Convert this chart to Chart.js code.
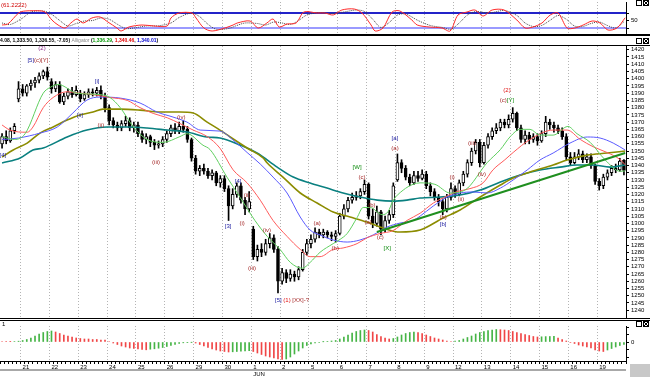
<!DOCTYPE html>
<html>
<head>
<meta charset="utf-8">
<script src="https://cdn.jsdelivr.net/npm/chart.js@4.4.0/dist/chart.umd.min.js"></script>
<style>
  body { margin: 0; background: #fff; }
  #wrap { position: relative; width: 650px; height: 377px; overflow: hidden; }
  canvas { position: absolute; left: 0; }
</style>
</head>
<body>
<div id="wrap">
  <canvas id="stoch" width="650" height="46" style="top:0;width:650px;height:46px"></canvas>
  <canvas id="main" width="650" height="272" style="top:46px;width:650px;height:272px"></canvas>
  <canvas id="osc" width="650" height="59" style="top:318px;width:650px;height:59px"></canvas>
</div>
<script>
// ---- data (hourly bars, 21 May .. 19 Jun) ----
const dayLabels = ['21','22','23','24','25','26','29','30','1','2','5','6','7','8','9','12','13','14','15','16','19'];
const dayStarts = [5,12,19,26,33,40,47,54,61,68,75,82,89,96,103,110,117,124,131,138,145];
const priceTicks = [1240,1245,1250,1255,1260,1265,1270,1275,1280,1285,1290,1295,1300,1305,1310,1315,1320,1325,1330,1335,1340,1345,1350,1355,1360,1365,1370,1375,1380,1385,1390,1395,1400,1405,1410,1415,1420];

const opens = [1355,1360,1357,1364,1386,1393,1390,1395,1397,1399,1402,1405,
  1398,1393,1396,1384,1388,1391,1389,
  1390,1386,1389,1391,1390,1392,1388,
  1380,1371,1368,1366,1369,1371,1366,
  1368,1362,1358,1360,1356,1354,1355,
  1358,1362,1366,1364,1367,1365,1358,
  1345,1336,1338,1336,1333,1335,1328,
  1331,1324,1312,1320,1326,1316,1310,
  1296,1277,1282,1280,1286,1290,1282,
  1260,1266,1262,1265,1263,1268,1280,
  1286,1289,1294,1292,1294,1292,1291,
  1293,1305,1310,1316,1318,1319,1322,
  1327,1305,1300,1308,1296,1302,1306,
  1330,1342,1338,1332,1328,1333,1331,
  1334,1326,1322,1318,1315,1310,1318,
  1324,1320,1328,1334,1342,1350,1356,
  1342,1354,1360,1364,1366,1370,1368,
  1372,1376,1366,1358,1361,1358,1360,
  1357,1362,1370,1368,1366,1364,1360,
  1346,1342,1346,1348,1344,1346,1340,
  1329,1326,1332,1335,1338,1337,1343.6];
const highs = [1362,1364,1366,1369,1398,1396,1396,1399,1401,1404,1406,1408,
  1400,1398,1398,1390,1393,1394,1395,
  1392,1391,1393,1393,1394,1395,1390,
  1382,1373,1370,1371,1374,1373,1370,
  1370,1364,1362,1361,1358,1357,1360,
  1364,1368,1369,1370,1371,1367,1359,
  1347,1340,1341,1338,1337,1336,1333,
  1333,1326,1324,1328,1328,1318,1322,
  1298,1285,1286,1289,1293,1292,1284,
  1269,1268,1268,1267,1270,1282,1289,
  1292,1297,1296,1296,1295,1294,1295,
  1307,1313,1318,1321,1322,1324,1330,
  1328,1310,1312,1309,1305,1309,1328,
  1348,1344,1340,1334,1336,1336,1337,
  1336,1328,1324,1320,1317,1320,1328,
  1326,1330,1336,1344,1352,1358,1358,
  1356,1362,1366,1369,1372,1372,1375,
  1380,1377,1368,1364,1363,1362,1362,
  1364,1374,1372,1370,1368,1366,1362,
  1349,1349,1351,1350,1348,1348,1341,
  1331,1334,1337,1340,1341,1345,1344.08];
const lows = [1352,1355,1356,1362,1384,1388,1388,1392,1394,1397,1400,1399,
  1390,1391,1383,1382,1386,1387,1388,
  1384,1385,1387,1388,1388,1386,1377,
  1368,1366,1364,1364,1367,1364,1363,
  1360,1356,1355,1353,1351,1352,1353,
  1356,1360,1362,1362,1363,1356,1343,
  1334,1333,1334,1331,1330,1326,1325,
  1322,1302,1310,1318,1314,1306,1308,
  1275,1274,1277,1278,1283,1280,1252,
  1258,1259,1260,1260,1261,1267,1278,
  1283,1287,1290,1290,1290,1288,1287,
  1292,1303,1308,1314,1316,1317,1320,
  1303,1297,1298,1292,1294,1300,1304,
  1329,1335,1330,1326,1327,1329,1330,
  1324,1319,1316,1312,1306,1308,1316,
  1318,1319,1326,1332,1340,1348,1339,
  1341,1352,1358,1362,1364,1366,1366,
  1370,1364,1356,1355,1355,1356,1354,
  1356,1360,1365,1363,1362,1358,1344,
  1340,1341,1344,1342,1342,1338,1327,
  1323,1324,1330,1333,1335,1336,1333.5];
const closes = [1360,1357,1364,1367,1393,1390,1395,1397,1399,1402,1405,1401,
  1393,1396,1384,1388,1391,1389,1392,
  1386,1389,1391,1390,1392,1388,1380,
  1371,1368,1366,1369,1371,1366,1368,
  1362,1358,1360,1356,1354,1355,1358,
  1362,1366,1364,1367,1365,1358,1345,
  1336,1338,1336,1333,1335,1328,1331,
  1324,1312,1320,1326,1316,1310,1315,
  1277,1282,1280,1286,1290,1282,1260,
  1266,1262,1265,1263,1268,1280,1286,
  1289,1294,1292,1294,1292,1291,1293,
  1305,1310,1316,1318,1319,1322,1327,
  1305,1300,1308,1296,1302,1306,1326,
  1342,1338,1332,1328,1333,1331,1334,
  1326,1322,1318,1315,1310,1318,1324,
  1320,1328,1334,1342,1350,1356,1342,
  1354,1360,1364,1366,1370,1368,1372,
  1376,1366,1358,1361,1358,1360,1357,
  1362,1370,1368,1366,1364,1360,1346,
  1342,1346,1348,1344,1346,1340,1329,
  1326,1332,1335,1338,1337,1343,1336.55];

// Alligator lines and two longer averages
const lipsBars = [0,3,5.6,10,11.7,13.6,18.2,23.8,26.2,28.7,31.8,35.2,39.1,43.2,44.9,48.8,50.5,54.6,57.8,61.4,64.4,67.5,70,72.9,74.8,77.2,80.4,82.1,83.8,86.2,87.7,89.4,92.3,93.7,95,97.4,99.8,101.5,105.1,108.8,112.4,117.8,121,123.4,125.8,128.2,130.6,133.8,137.4,139.6,142.8,146.4,150.1,151.3];
const lipsVals = [1360,1358,1362,1390,1394,1396,1390,1389,1387,1380,1367,1358,1356,1360,1362,1354,1351,1332,1318,1302,1291,1282,1273,1269,1273,1280,1286,1289,1293,1304,1311,1311,1306,1308,1316,1323,1327,1328,1327,1321,1323,1342,1351,1360,1365,1365,1361,1361,1367,1362,1356,1344,1336,1336.3];
const teethBars = [0,1.9,6.1,7.5,10,12.4,15.8,18.9,22.1,26.2,30.4,33.5,36.7,40.1,43.2,46.4,49.8,52.9,56.1,59.5,62.7,65.8,69.2,72.4,74.8,77.2,80.4,82.8,86.2,88.6,91.8,94.9,98.3,101.5,104.7,108.1,110.5,113.6,116.8,119.2,122.1,124.1,128.2,133.8,137.2,140.4,143.5,146.9,150.1,151.3];
const teethVals = [1368,1364.5,1363,1366.6,1380,1387,1391,1390,1389,1387,1385,1380,1376,1373,1369,1364.5,1360,1352,1337,1328,1316,1302,1291,1282,1277,1277,1282,1283,1286,1290,1293,1295,1302,1307,1314,1319,1322,1324,1328,1337,1344,1349,1358,1364.5,1364.5,1358,1353,1349,1344,1340.5];
const jawBars = [0,4,9.2,13.4,17.2,20.6,23.8,28.7,33.5,37.6,41.5,44.9,48.1,52.9,56.1,59.5,62.7,65.8,69.2,72.4,74.8,77.2,80.4,83.8,86.9,90.1,93.5,96.6,99.8,101.5,104.7,108.1,111.2,114.4,117.8,121,124.1,127.5,130.6,133.8,137.9,142.1,145.2,148.4,151.3];
const jawVals = [1358,1359,1362.4,1366.6,1376.3,1385.2,1387.3,1386.6,1383.2,1377,1373.5,1370,1364.5,1363.8,1357.6,1349,1341,1332,1321,1304.4,1295.4,1292,1288.5,1287.1,1288.5,1292,1297.5,1300.2,1302,1305,1312,1318.2,1321,1321.7,1321,1324.4,1330,1336.9,1343.8,1348.6,1355.5,1359.7,1359,1355.5,1350.7];
const slowBars = [0,2.7,6.1,9.2,12.4,15.8,18.9,22.1,24.5,28.7,33.5,38.4,43.2,46.4,49.8,52.9,55.4,59.5,63.4,64.4,68.2,72.4,76.5,80.4,84.5,88.6,92.5,96.6,101.5,107.1,111.2,116.1,121,124.1,128.2,133.8,137.2,142.1,146.9,151.3];
const slowVals = [1345.9,1350.7,1355.5,1362.4,1366.6,1371.4,1374.9,1377,1379,1379,1378.3,1377,1377,1376.3,1370,1364.5,1359.7,1352.1,1345.2,1341.7,1332,1321,1314.1,1307.8,1304.4,1300.9,1296.8,1294,1295.4,1303.7,1309.2,1318.2,1326.5,1331.3,1335.5,1340.3,1343.8,1347.2,1348.6,1350];
const longBars = [0,4.4,7.5,10,15.8,20.6,25.5,30.4,35.2,40.1,44.9,49.8,52.9,57.8,61.9,66.8,70.7,74.8,78.9,82.8,86.9,91.1,94.9,98.3,101.5,106.4,111.2,116.1,121,125.8,130.6,135.5,139.6,143.5,147.6,151.3];
const longVals = [1341.7,1345.2,1350.7,1352.1,1359.7,1364.5,1366.6,1366.6,1365.9,1364.5,1363.1,1359.7,1359,1354.1,1348.6,1338.9,1332,1327.9,1324.4,1321,1318.2,1316.1,1315.4,1316.1,1317.5,1318.2,1319.6,1323,1328.6,1333.4,1336.9,1338.9,1340.3,1340.3,1338.9,1340.3];
const trendBars = [91, 151.3];
const trendVals = [1294, 1348.6];

// stochastic (top pane)
const stochBars = [0,1.4,4.1,5.6,9.7,10.7,12.1,13.6,15.3,16.7,18.2,19.7,21.8,23.8,25.7,27.9,28.9,30.8,34,36.9,40.1,41,43,46.1,47.1,49,51,54.1,56.1,57.1,60.2,62.2,64.3,65.8,67.3,69.2,71.4,73.3,76.5,78.4,80.4,82.5,85.5,87.4,89.6,90.6,92.5,94.7,96.6,99.5,100.8,103.7,106.8,108.8,110.7,112.9,114.8,116.8,119,121.9,125,127,128.9,131.1,133.1,135,137.2,139.1,141.1,143.3,145.2,147.1,149.3,151.3];
const stochK = [32,36,81,88,88,81,52,32,20,40,56,40,60,64,44,20,8,24,32,28,28,60,80,80,60,20,8,20,32,40,48,20,40,56,24,36,40,84,80,80,72,92,96,80,32,8,20,84,88,52,32,24,20,8,72,84,92,68,92,92,52,20,24,40,72,80,20,20,32,48,40,12,20,61];
const sigBars = [0,2,5,7,10,12,14,16,18,20,22,24,26,28,30,32,35,38,41,43,46,48,50,52,55,57,59,62,64,66,68,70,72,74,77,80,83,86,88,90,92,94,96,98,101,104,107,109,111,113,115,117,119,122,125,127,129,131,133,135,137,139,141,143,145,147,149,151];
const stochD = [40,34,60,84,88,75,50,28,38,48,50,60,55,35,18,20,28,29,40,62,80,65,35,15,18,30,40,38,32,44,40,34,50,72,82,78,84,92,86,55,22,42,72,76,50,30,22,15,40,72,86,82,82,90,70,40,26,30,50,70,55,28,26,38,44,30,20,45];

// oscillator histogram (bottom pane), one value per bar
const oscVals = [0.5,0.5,0.3,0.5,0.8,
  1.5,2.5,4,6,8,9.5,10.5, 11,10,8.5,7,6,5,4, 3.5,3,3,2.5,2.5,2,2,
  0.5,-1,-2.5,-4,-5,-6,-6.5, -7,-7.5,-7.8,-7.2,-6.8,-6.2,-5.5,
  -4.5,-3.5,-2.5,-1.5,-0.8,-0.3,-0.2, -1,-2.5,-4,-5.5,-7,-8,-9,
  -9.5,-10,-9.8,-9.5,-9.2,-9,-8.6, -9.5,-11,-12.5,-14,-15,-16,-17,
  -17.5,-17,-15,-12,-9,-6,-3.5, -2,-1,-0.5,0.2,0.6,1,1.5,
  3,5,7,9,10.5,11.5,12, 11.5,10,7.5,5.5,4,3,3.5,
  5,7,8.5,9.5,10,9.5,8.5, 7,5.5,4,3,2,1,0.5,
  0.8,1.5,3,4.5,6,8,9.5, 10.5,11.5,12,12.5,12.3,12,11.5,
  10.5,9.5,8.5,7.5,6.5,5.5,5, 5.2,5.4,5.5,5.6,4,2.5,1,
  -0.5,-1.5,-3,-4,-5,-6, -8,-9,-9.5, -8,-6.5,-5,-3.5,-2.5];

const BLUE = '#1c1ca0', BROWN = '#a52a2a', RED = '#e01010', GREEN = '#0a8a0a', PURPLE = '#8a2a8a';
const waveLabels = [
  [0.2, 1347, [['[4]', BLUE]]],
  [9.7, 1421, [['(2)', PURPLE]]],
  [8.7, 1413, [['[5]', BLUE], ['(c)', BROWN], ['[Y]', BROWN]]],
  [23.1, 1398, [['[i]', BLUE]]],
  [18.9, 1375, [['[ii]', BLUE]]],
  [24, 1368, [['(ii)', BROWN]]],
  [37.4, 1342, [['(iii)', BROWN]]],
  [43.5, 1373.5, [['(iv)', BROWN]]],
  [54.9, 1298, [['[3]', BLUE]]],
  [57.3, 1329, [['[4]', BLUE]]],
  [58.3, 1300, [['(i)', BROWN]]],
  [59.5, 1319.6, [['(ii)', BROWN]]],
  [60.7, 1269, [['(iii)', BROWN]]],
  [64.3, 1295.4, [['(iv)', BROWN]]],
  [70.4, 1247, [['[5] ', BLUE], ['(1) ', RED], ['[XX]-?', BROWN]]],
  [76.5, 1300, [['(a)', BROWN]]],
  [80.9, 1283, [['(b)', BROWN]]],
  [86.2, 1339, [['[W]', GREEN]]],
  [87.4, 1332, [['(c)', BROWN]]],
  [89.8, 1312.7, [['(b)', BROWN]]],
  [88.9, 1301, [['(a)', BROWN]]],
  [91.8, 1290.6, [['(c)', BROWN]]],
  [93.5, 1283, [['[X]', GREEN]]],
  [95.4, 1359, [['[a]', BLUE]]],
  [95.4, 1352, [['(a)', BROWN]]],
  [107.1, 1304.4, [['(b)', BROWN]]],
  [107.1, 1299, [['[b]', BLUE]]],
  [109.3, 1332, [['(i)', BROWN]]],
  [111.4, 1316.8, [['(ii)', BROWN]]],
  [114.1, 1355.5, [['(iii)', BROWN]]],
  [116.5, 1334, [['(iv)', BROWN]]],
  [122.6, 1392, [['(2)', RED]]],
  [122.6, 1385, [['(c)', BROWN], ['[Y]', GREEN]]]
];

// ---- helpers ----
const FONT = '"Liberation Sans", Arial, sans-serif';
const pts = (xs, ys) => xs.map((x, i) => ({ x: x + 0.5, y: ys[i] }));
const daySet = new Set(dayStarts);

function hiddenX() {
  return {
    type: 'linear', min: 0, max: 152, offset: false,
    grid: { color: '#b4b4b4', drawTicks: false, offset: false },
    border: { display: false, dash: [1, 2] },
    ticks: { display: false },
    afterBuildTicks: s => { s.ticks = dayStarts.map(v => ({ value: v })); },
    afterFit: s => { s.height = 0; s.paddingLeft = 0; s.paddingRight = 0; }
  };
}
function rightY(min, max, ticks, cb) {
  return {
    type: 'linear', position: 'right', min: min, max: max,
    grid: { drawOnChartArea: false, tickLength: 3, tickColor: '#000' },
    border: { color: '#000' },
    ticks: { font: { size: 6, family: FONT }, color: '#000', padding: 2, autoSkip: false, callback: cb },
    afterBuildTicks: s => { s.ticks = ticks.map(v => ({ value: v })); },
    afterFit: s => { s.width = 24; s.paddingTop = 0; s.paddingBottom = 0; }
  };
}
const base = {
  responsive: false, animation: false, devicePixelRatio: 1, events: [],
  plugins: { legend: { display: false }, tooltip: { enabled: false } }
};
function icons(ctx, y) {
  ctx.strokeStyle = '#000'; ctx.lineWidth = 1;
  ctx.strokeRect(636.5, y + 0.5, 5, 5);
  ctx.strokeRect(643.5, y + 0.5, 5, 5);
  ctx.beginPath();
  ctx.moveTo(644, y + 1); ctx.lineTo(648, y + 5);
  ctx.moveTo(648, y + 1); ctx.lineTo(644, y + 5);
  ctx.stroke();
}

// ---- top pane: stochastic ----
new Chart(document.getElementById('stoch'), {
  type: 'line',
  data: {
    datasets: [
      { data: pts(stochBars, stochK), borderColor: '#ff2a2a', borderWidth: 1, pointRadius: 0, tension: 0.3 },
      { data: pts(sigBars, stochD), borderColor: '#444', borderWidth: 1, borderDash: [1, 1], pointRadius: 0, tension: 0.3 },
      { data: [{ x: 0, y: 80 }, { x: 152, y: 80 }], borderColor: '#2323c8', borderWidth: 2, pointRadius: 0 },
      { data: [{ x: 0, y: 20 }, { x: 152, y: 20 }], borderColor: '#9a9aff', borderWidth: 2, pointRadius: 0 }
    ]
  },
  options: Object.assign({}, base, {
    layout: { padding: { top: 2, bottom: 12, left: 0, right: 0 } },
    scales: {
      x: hiddenX(),
      y: rightY(-4, 124, [20, 50, 80], v => v === 50 ? '50' : '')
    }
  }),
  plugins: [{
    id: 'stochFrame',
    afterDraw(chart) {
      const ctx = chart.ctx;
      ctx.save();
      ctx.fillStyle = '#000';
      ctx.fillRect(0, 34, 650, 2);
      ctx.fillRect(0, 45, 650, 1);
      ctx.font = '6px ' + FONT;
      ctx.textBaseline = 'middle';
      ctx.fillStyle = '#d00000';
      ctx.fillText('(61.2222)', 1, 5);
      const parts = [['4.08, 1,333.50, 1,336.55, -7.05) ', '#000', 'bold '], ['Alligator ', '#888', ''],
        ['(', '#000', 'bold '], ['1,336.29', '#0a9a0a', 'bold '], [', ', '#000', 'bold '],
        ['1,340.46', '#e00000', 'bold '], [', ', '#000', 'bold '], ['1,340.01', '#0000d0', 'bold '], [')', '#000', 'bold ']];
      let x = 0;
      parts.forEach(([t, c, w]) => {
        ctx.font = w + '5px ' + FONT;
        ctx.fillStyle = c;
        ctx.fillText(t, x, 40.5);
        x += ctx.measureText(t).width;
      });
      icons(ctx, 0);
      icons(ctx, 38);
      ctx.restore();
    }
  }]
});

// ---- main pane: candles + averages ----
new Chart(document.getElementById('main'), {
  type: 'bar',
  data: {
    datasets: [
      { type: 'line', order: 0, data: pts(trendBars, trendVals), borderColor: '#1f8f1f', borderWidth: 2, pointRadius: 0 },
      { type: 'line', order: 0, data: pts(lipsBars, lipsVals), borderColor: '#5fcf5f', borderWidth: 1, pointRadius: 0, cubicInterpolationMode: 'monotone' },
      { type: 'line', order: 0, data: pts(teethBars, teethVals), borderColor: '#ff5a5a', borderWidth: 1, pointRadius: 0, cubicInterpolationMode: 'monotone' },
      { type: 'line', order: 0, data: pts(jawBars, jawVals), borderColor: '#5a5aff', borderWidth: 1, pointRadius: 0, cubicInterpolationMode: 'monotone' },
      { type: 'line', order: 0, data: pts(slowBars, slowVals), borderColor: '#8c8c00', borderWidth: 1.6, pointRadius: 0, cubicInterpolationMode: 'monotone' },
      { type: 'line', order: 0, data: pts(longBars, longVals), borderColor: '#0a8080', borderWidth: 1.6, pointRadius: 0, cubicInterpolationMode: 'monotone' },
      { order: 2, data: lows.map((l, i) => ({ x: i + 0.5, y: [l, highs[i]] })), backgroundColor: '#000', barThickness: 1, grouped: false },
      { order: 1, data: opens.map((o, i) => ({ x: i + 0.5, y: [o, closes[i]] })),
        backgroundColor: opens.map((o, i) => closes[i] >= o ? '#fff' : '#000'),
        borderColor: '#000', borderWidth: 1, borderSkipped: false, barThickness: 3, grouped: false, minBarLength: 1 }
    ]
  },
  options: Object.assign({}, base, {
    layout: { padding: 0 },
    scales: {
      x: hiddenX(),
      y: rightY(1234.6, 1422.6, priceTicks, v => String(v))
    }
  }),
  plugins: [{
    id: 'waveLabels',
    afterDatasetsDraw(chart) {
      const { ctx, scales: { x, y } } = chart;
      ctx.save();
      ctx.font = '6px ' + FONT;
      ctx.textBaseline = 'middle';
      ctx.textAlign = 'left';
      waveLabels.forEach(([bar, price, parts]) => {
        const w = parts.reduce((s, p) => s + ctx.measureText(p[0]).width, 0);
        let px = x.getPixelForValue(bar + 0.5) - w / 2;
        const py = y.getPixelForValue(price);
        parts.forEach(([t, c]) => { ctx.fillStyle = c; ctx.fillText(t, px, py); px += ctx.measureText(t).width; });
      });
      ctx.restore();
    }
  }]
});

// ---- bottom pane: histogram ----
const allBars = [];
for (let i = 0; i <= 152; i++) allBars.push({ value: i });
new Chart(document.getElementById('osc'), {
  type: 'bar',
  data: {
    datasets: [{
      data: oscVals.map((v, i) => ({ x: i + 0.5, y: v })),
      backgroundColor: oscVals.map((v, i) => i > 0 && v > oscVals[i - 1] ? '#46b446' : '#f04646'),
      barThickness: 1
    }]
  },
  options: Object.assign({}, base, {
    layout: { padding: { top: 8, bottom: 0, left: 0, right: 0 } },
    scales: {
      x: {
        type: 'linear', min: 0, max: 152, offset: false,
        grid: { color: c => daySet.has(c.tick && c.tick.value) ? '#b4b4b4' : 'rgba(0,0,0,0)', tickColor: '#000', tickLength: 3, offset: false },
        border: { display: true, color: '#000', dash: [1, 2] },
        ticks: {
          autoSkip: false, maxRotation: 0, minRotation: 0, align: 'start', labelOffset: 2, padding: 0,
          font: { size: 6, family: FONT }, color: '#000',
          callback: v => {
            const k = dayStarts.indexOf(v);
            if (k < 0) return '';
            return dayLabels[k] === '1' ? ['1', 'JUN'] : dayLabels[k];
          }
        },
        afterBuildTicks: s => { s.ticks = allBars.slice(); },
        afterFit: s => { s.height = 16; s.paddingLeft = 0; s.paddingRight = 0; }
      },
      y: rightY(-19, 16, [-15, -7.5, 0, 7.5, 15], v => v === 0 ? '0' : '')
    }
  }),
  plugins: [{
    id: 'oscFrame',
    beforeDraw(chart) {
      const ctx = chart.ctx;
      ctx.save();
      ctx.fillStyle = '#a8a8a8';
      ctx.fillRect(0, 51, 626, 2);
      ctx.fillStyle = '#c8c8c8';
      ctx.fillRect(630, 46, 20, 13);
      ctx.restore();
    },
    afterDraw(chart) {
      const ctx = chart.ctx;
      ctx.save();
      ctx.fillStyle = '#000';
      ctx.fillRect(0, 0, 650, 1);
      ctx.fillRect(0, 2, 650, 1);
      ctx.font = '6px ' + FONT;
      ctx.textBaseline = 'middle';
      ctx.fillText('1', 2, 6);
      icons(ctx, 3);
      ctx.restore();
    }
  }]
});
</script>
</body>
</html>
